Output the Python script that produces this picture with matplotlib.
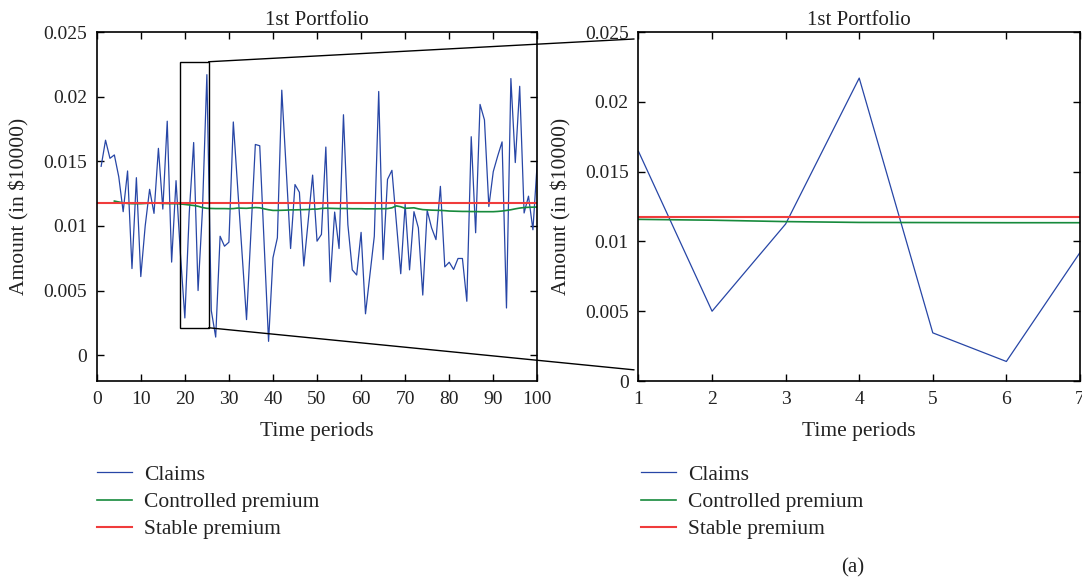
import numpy as np
import matplotlib
matplotlib.use("Agg")
import matplotlib.pyplot as plt
from matplotlib.patches import Rectangle, ConnectionPatch
from matplotlib.ticker import FuncFormatter

# claims per time period (in $10000), periods 1..100
claims = [
    0.01461, 0.01663, 0.01523, 0.01549, 0.01380, 0.01110, 0.01425, 0.00670, 0.01373, 0.00608,
    0.01000, 0.01283, 0.01097, 0.01600, 0.01130, 0.01810, 0.00720, 0.01350, 0.00780, 0.00288,
    0.01100, 0.01645, 0.00500, 0.01125, 0.02170, 0.00345, 0.00140, 0.00920, 0.00843, 0.00874,
    0.01804, 0.01290, 0.00780, 0.00275, 0.00950, 0.01630, 0.01620, 0.00860, 0.00107, 0.00753,
    0.00908, 0.02050, 0.01440, 0.00825, 0.01320, 0.01260, 0.00690, 0.01040, 0.01393, 0.00882,
    0.00934, 0.01610, 0.00567, 0.01107, 0.00825, 0.01860, 0.01010, 0.00660, 0.00620, 0.00950,
    0.00320, 0.00620, 0.00920, 0.02040, 0.00740, 0.01360, 0.01430, 0.01030, 0.00630, 0.01166,
    0.00660, 0.01110, 0.00985, 0.00465, 0.01120, 0.00985, 0.00894, 0.01306, 0.00683, 0.00719,
    0.00663, 0.00748, 0.00748, 0.00417, 0.01690, 0.00947, 0.01940, 0.01820, 0.01150, 0.01420,
    0.01540, 0.01650, 0.00365, 0.02140, 0.01490, 0.02080, 0.01100, 0.01230, 0.00970, 0.01500,
]

# controlled premium, periods 4..100
controlled = [
    0.01192, 0.01185, 0.01178, 0.01174, 0.01172, 0.01172, 0.01172, 0.01174, 0.01176, 0.01177,
    0.01176, 0.01174, 0.01173, 0.01172, 0.01172, 0.01170, 0.01166, 0.01162, 0.01158, 0.01152,
    0.01142, 0.01136, 0.01135, 0.01134, 0.01134, 0.01134, 0.01133, 0.01134, 0.01138, 0.01137,
    0.01136, 0.01139, 0.01142, 0.01140, 0.01132, 0.01125, 0.01120, 0.01120, 0.01121, 0.01122,
    0.01124, 0.01124, 0.01125, 0.01126, 0.01127, 0.01130, 0.01130, 0.01135, 0.01137, 0.01136,
    0.01135, 0.01134, 0.01135, 0.01134, 0.01133, 0.01133, 0.01133, 0.01132, 0.01132, 0.01132,
    0.01133, 0.01133, 0.01134, 0.01140, 0.01155, 0.01148, 0.01136, 0.01138, 0.01140, 0.01132,
    0.01126, 0.01124, 0.01122, 0.01121, 0.01120, 0.01118, 0.01115, 0.01114, 0.01113, 0.01112,
    0.01112, 0.01111, 0.01111, 0.01110, 0.01110, 0.01110, 0.01110, 0.01112, 0.01115, 0.01120,
    0.01125, 0.01132, 0.01138, 0.01142, 0.01144, 0.01145, 0.01146,
]
controlled_start = 4

stable = 0.01175

# zoomed window: periods 22..28 shown as 1..7
zoom_start = 22
zoom_ticks = [1, 2, 3, 4, 5, 6, 7]

left_yticks = [0, 0.005, 0.01, 0.015, 0.02, 0.025]
left_xticks = [0, 10, 20, 30, 40, 50, 60, 70, 80, 90, 100]

periods = np.arange(1, len(claims) + 1)
ctrl_periods = np.arange(controlled_start, controlled_start + len(controlled))

blue = "#2746a6"
green = "#178a3c"
red = "#f03c3c"
txt = "#222222"

plt.rcParams["font.family"] = ["Liberation Serif", "DejaVu Serif"]
plt.rcParams["font.size"] = 14
plt.rcParams["text.color"] = txt
plt.rcParams["axes.labelcolor"] = txt
plt.rcParams["xtick.color"] = txt
plt.rcParams["ytick.color"] = txt

fig = plt.figure(figsize=(10.82, 5.81), dpi=100)
ax1 = fig.add_axes([0.0894, 0.3442, 0.4072, 0.6007])
ax2 = fig.add_axes([0.5901, 0.3442, 0.4080, 0.6007])

fmt = FuncFormatter(lambda v, p: "{:g}".format(round(v, 4)))

def style(ax):
    ax.tick_params(direction="in", top=True, right=True, length=5, width=1,
                   labelsize=14, pad=7, colors="black", labelcolor=txt)
    for s in ax.spines.values():
        s.set_linewidth(1.2)
    ax.yaxis.set_major_formatter(fmt)
    ax.set_xlabel("Time periods", fontsize=15.5, labelpad=10)
    ax.set_ylabel(r"Amount (in \$10000)", fontsize=15.5, labelpad=10)
    ax.set_title("1st Portfolio", fontsize=15, pad=5)

# left panel: full horizon
l1, = ax1.plot(periods, claims, color=blue, lw=0.9, label="Claims")
l2, = ax1.plot(ctrl_periods, controlled, color=green, lw=1.2, label="Controlled premium")
l3 = ax1.axhline(stable, color=red, lw=1.5, label="Stable premium")
ax1.set_xlim(0, 100)
ax1.set_ylim(-0.002, 0.025)
ax1.set_xticks(left_xticks)
ax1.set_yticks(left_yticks)
style(ax1)

# zoom box
box_x0, box_x1 = 18.9, 25.4
box_y0, box_y1 = 0.00212, 0.0227
ax1.add_patch(Rectangle((box_x0, box_y0), box_x1 - box_x0, box_y1 - box_y0,
                        fill=False, ec="black", lw=1.0, zorder=5))

# right panel: zoomed periods
i0 = zoom_start - 1
n = len(zoom_ticks)
ax2.plot(zoom_ticks, claims[i0:i0 + n], color=blue, lw=0.9, label="Claims")
ax2.plot(zoom_ticks, controlled[zoom_start - controlled_start:zoom_start - controlled_start + n],
         color=green, lw=1.2, label="Controlled premium")
ax2.axhline(stable, color=red, lw=1.5, label="Stable premium")
ax2.set_xlim(1, 7)
ax2.set_ylim(0, 0.025)
ax2.set_xticks(zoom_ticks)
ax2.set_yticks(left_yticks)
style(ax2)

for (ya, yb) in [(box_y1, 0.0245), (box_y0, 0.0008)]:
    con = ConnectionPatch(xyA=(box_x1, ya), coordsA=ax1.transData,
                          xyB=(0.94, yb), coordsB=ax2.transData,
                          color="black", lw=1.0, clip_on=False)
    fig.add_artist(con)

leg_kw = dict(loc="upper left", frameon=False, fontsize=15.5, handlelength=1.63,
              handletextpad=0.56, labelspacing=0.33, borderpad=0, borderaxespad=0)
fig.legend(handles=[l1, l2, l3], bbox_to_anchor=(0.0894, 0.2), **leg_kw)
h = ax2.get_lines()
fig.legend(handles=h[:3], bbox_to_anchor=(0.5925, 0.2), **leg_kw)

fig.text(0.788, 0.0224, "(a)", ha="center", va="center", fontsize=15)

fig.savefig("out.png", dpi=100)
